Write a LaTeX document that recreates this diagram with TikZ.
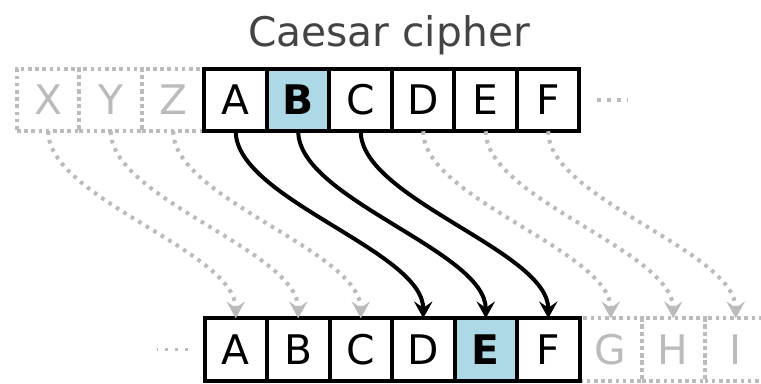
\documentclass[tikz,border=0pt]{standalone}
\usepackage{fontspec}
\setmainfont{DejaVu Sans}
\usepackage{xcolor}
\definecolor{shiftBlue}{HTML}{ADD8E6}
\definecolor{ghostGray}{HTML}{BBBBBB}
\definecolor{titleGray}{HTML}{444444}
\usepackage{tikz}
\usetikzlibrary{arrows.meta, positioning, backgrounds}

\begin{document}
\begin{tikzpicture}[
    node distance=0pt,
    letterbox/.style={
        rectangle,
        draw=black,
        line width=0.1cm,
        fill=white,
        minimum width=1.5625cm,
        minimum height=1.5625cm,
        inner sep=0pt,
        outer sep=0pt,
        font=\fontsize{29}{29}\selectfont
    },
    shiftedbox/.style={letterbox, fill=shiftBlue, font=\fontsize{29}{29}\selectfont\bfseries},
    ghostbox/.style={letterbox, fill=none, draw=ghostGray, text=ghostGray, dash pattern=on 0.09cm off 0.09cm},
    shiftarrow/.style={-{Stealth[length=0.42cm, width=0.46cm, inset=0.16cm]}, line width=0.1cm, out=-90, in=90, looseness=0.65},
    ghostarrow/.style={shiftarrow, draw=ghostGray, dash pattern=on 0.09cm off 0.13cm},
    ellipsis/.style={draw=ghostGray, line width=0.09cm, dash pattern=on 0.09cm off 0.16cm}
]
\useasboundingbox (0,0) rectangle (19.025,9.575);

% plain alphabet
\begin{pgfonlayer}{background}
\node[ghostbox] (tX) at (1.206,7.075) {X};
\node[ghostbox, right=of tX] (tY) {Y};
\node[ghostbox, right=of tY] (tZ) {Z};
\end{pgfonlayer}
\node[letterbox, right=of tZ] (tA) {A};
\node[shiftedbox, right=of tA] (tB) {B};
\node[letterbox, right=of tB] (tC) {C};
\node[letterbox, right=of tC] (tD) {D};
\node[letterbox, right=of tD] (tE) {E};
\node[letterbox, right=of tE] (tF) {F};
\coordinate[right=0.44cm of tF] (moreR);
\draw[ellipsis] (moreR) -- ++(0.78cm,0);

% cipher alphabet
\node[letterbox] (bA) at (5.894,0.8375) {A};
\node[letterbox, right=of bA] (bB) {B};
\node[letterbox, right=of bB] (bC) {C};
\node[letterbox, right=of bC] (bD) {D};
\node[shiftedbox, right=of bD] (bE) {E};
\node[letterbox, right=of bE] (bF) {F};
\begin{pgfonlayer}{background}
\node[ghostbox, right=of bF] (bG) {G};
\node[ghostbox, right=of bG] (bH) {H};
\node[ghostbox, right=of bH] (bI) {I};
\end{pgfonlayer}
\coordinate[left=0.41cm of bA] (moreL);
\draw[ellipsis] (moreL) -- ++(-0.78cm,0);

\node[font=\fontsize{29}{29}\selectfont, text=titleGray, anchor=base] (title) at (9.725,8.4) {Caesar cipher};

% shift by three
\draw[ghostarrow] (tX.south) to (bA.north);
\draw[ghostarrow] (tY.south) to (bB.north);
\draw[ghostarrow] (tZ.south) to (bC.north);
\draw[shiftarrow] (tA.south) to (bD.north);
\draw[shiftarrow] (tB.south) to (bE.north);
\draw[shiftarrow] (tC.south) to (bF.north);
\draw[ghostarrow] (tD.south) to (bG.north);
\draw[ghostarrow] (tE.south) to (bH.north);
\draw[ghostarrow] (tF.south) to (bI.north);
\end{tikzpicture}
\end{document}
